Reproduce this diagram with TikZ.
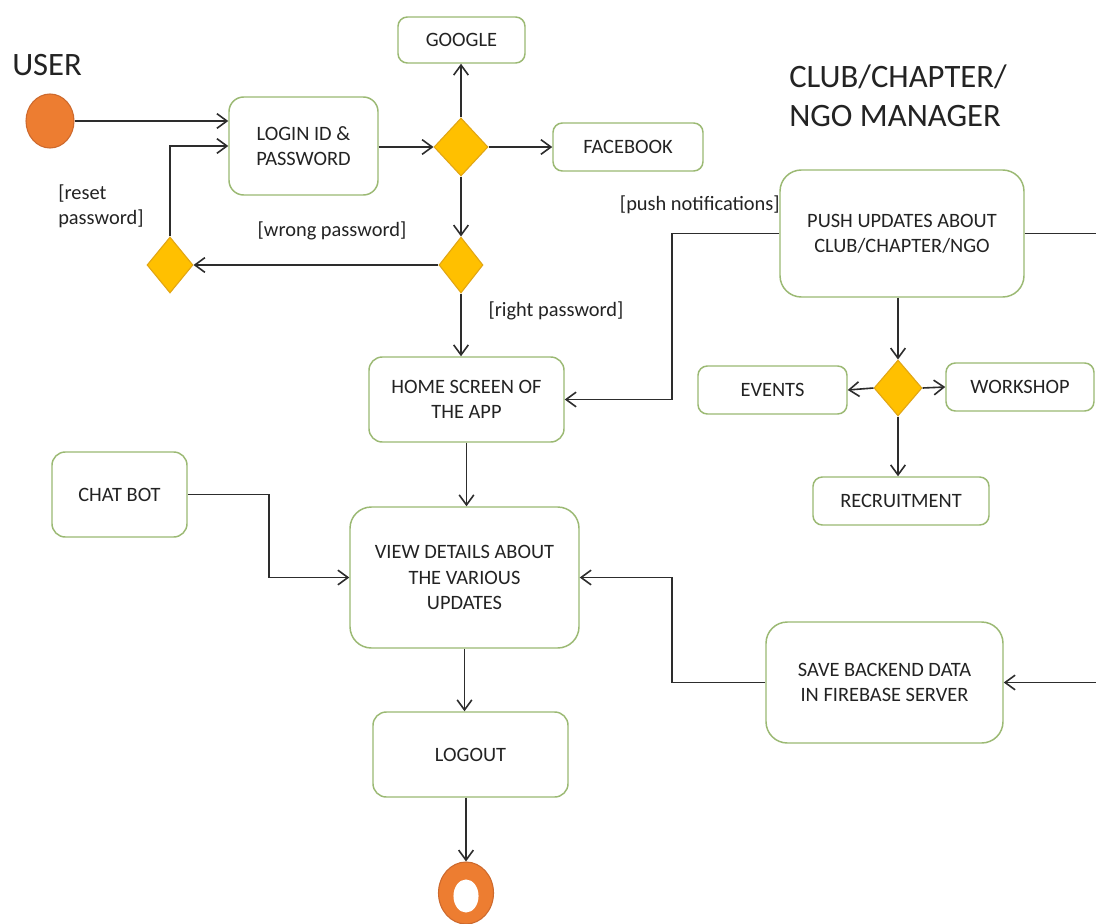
\documentclass[tikz,border=0pt]{standalone}
\usepackage{fontspec}
\setmainfont{Carlito}
\usetikzlibrary{shapes.geometric,arrows.meta,calc}
\definecolor{boxgreen}{RGB}{155,185,115}
\definecolor{gold}{RGB}{255,192,0}
\definecolor{goldline}{RGB}{225,165,20}
\definecolor{orng}{RGB}{237,125,49}
\definecolor{orngline}{RGB}{205,105,45}
\definecolor{ink}{RGB}{45,45,45}
\definecolor{txt}{RGB}{35,35,35}
\begin{document}
\begin{tikzpicture}[x=0.75pt,y=-0.75pt,
  sz/.style 2 args={minimum width=#1*0.75pt,minimum height=#2*0.75pt},
  box/.style={draw=boxgreen,line width=1.1pt,rounded corners=7pt,fill=white,align=center,text=txt,font=\fontsize{15.3}{18.8}\selectfont,inner sep=0pt},
  dec/.style={diamond,draw=goldline,fill=gold,line width=0.8pt,inner sep=0pt},
  arr/.style={draw=ink,line width=1.2pt,-{Straight Barb[length=7.5pt,width=11pt,line width=1.2pt]}},
  lbl/.style={text=txt,font=\fontsize{15.3}{18.8}\selectfont,inner sep=0pt},
  ttl/.style={text=txt,font=\fontsize{24.5}{29}\selectfont,inner sep=0pt}]
\clip (0,0) rectangle (1096,924);
\fill[white] (0,0) rectangle (1096,924);

% titles
\node[ttl,anchor=base west] (tuser) at (12,76) {USER};
\node[ttl,anchor=base west] (tclub1) at (789,88) {CLUB/CHAPTER/};
\node[ttl,anchor=base west] (tclub2) at (789,127) {NGO MANAGER};

% boxes
\node[box,sz={127}{46}] (google) at (461.5,40) {GOOGLE};
\node[box,sz={149}{98},rounded corners=11pt] (login) at (303.5,146) {LOGIN ID \&\\PASSWORD};
\node[box,sz={150}{48}] (facebook) at (628,147) {FACEBOOK};
\node[box,sz={244}{127},rounded corners=16pt] (push) at (902,233.5) {PUSH UPDATES ABOUT\\CLUB/CHAPTER/NGO};
\node[box,sz={195}{85},rounded corners=10pt] (home) at (466.5,399.5) {HOME SCREEN OF\\THE APP};
\node[box,sz={149}{48}] (events) at (772.5,390) {EVENTS};
\node[box,sz={148}{48}] (workshop) at (1020,387) {WORKSHOP};
\node[box,sz={176}{48}] (recruit) at (901,501) {RECRUITMENT};
\node[box,sz={135}{85},rounded corners=10pt] (chatbot) at (119.5,494.5) {CHAT BOT};
\node[box,sz={229}{141},rounded corners=16pt] (view) at (464.5,577.5) {VIEW DETAILS ABOUT\\THE VARIOUS\\UPDATES};
\node[box,sz={237}{121},rounded corners=16pt] (save) at (884.5,682.5) {SAVE BACKEND DATA\\IN FIREBASE SERVER};
\node[box,sz={195}{85},rounded corners=10pt] (logout) at (470.5,754.5) {LOGOUT};

% decisions
\node[dec,sz={54}{58}] (d1) at (461,147) {};
\node[dec,sz={44}{56}] (d2) at (461,265) {};
\node[dec,sz={46}{56}] (dr) at (170,265) {};
\node[dec,sz={48}{56}] (d3) at (898,388) {};

% start and end
\node[ellipse,draw=orngline,fill=orng,line width=0.8pt,inner sep=0pt,sz={48}{54}] (start) at (50,121) {};
\node[ellipse,draw=orngline,fill=orng,line width=0.8pt,inner sep=0pt,sz={55}{62}] (end) at (466,893) {};
\fill[white] (466,896) ellipse [x radius=9.4pt,y radius=12.4pt];

% labels
\node[lbl,align=left,anchor=west] (lreset) at (58,206) {[reset\\password]};
\node[lbl] (lwrong) at (332,231) {[wrong password]};
\node[lbl] (lright) at (556,311) {[right password]};
\node[lbl,anchor=east] (lpush) at (780,205) {[push notifications]};

% connectors
\draw[arr] (start.east) -- (start.east -| login.west);
\draw[arr] (dr.north) |- (login.west);
\draw[arr] (login.east |- d1.west) -- (d1.west);
\draw[arr] (d1.north) -- (d1.north |- google.south);
\draw[arr] (d1.east) -- (facebook.west);
\draw[arr] (d1.south) -- (d2.north);
\draw[arr] (d2.west) -- (dr.east);
\draw[arr] (d2.south) -- (d2.south |- home.north);
\draw[arr] (push.west) -- ++(-107,0) |- (home.east);
\draw[arr] (push.east) -- ++(120,0) |- (save.east);
\draw[arr] (d3.north |- push.south) -- (d3.north);
\draw[arr] (d3.west) -- (events.east);
\draw[arr] (d3.east) -- (workshop.west);
\draw[arr] (d3.south) -- (d3.south |- recruit.north);
\draw[arr] (home.south) -- (home.south |- view.north);
\draw[arr] (chatbot.east) -- ++(81,0) |- (view.west);
\draw[arr] (save.west) -- ++(-93,0) |- (view.east);
\draw[arr] (view.south) -- (view.south |- logout.north);
\draw[arr] (end.north |- logout.south) -- (end.north);
\end{tikzpicture}
\end{document}
